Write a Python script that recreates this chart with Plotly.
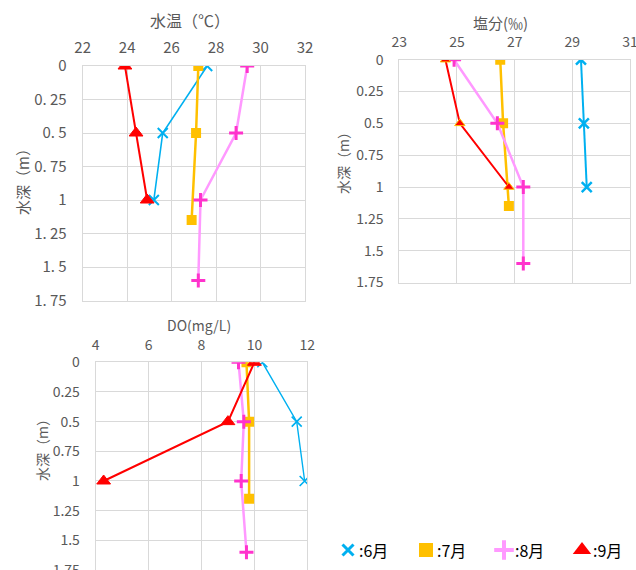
import plotly.graph_objects as go

W, H = 636, 570

# Depth (m) of each sampling point per month
depth_jun = [0, 0.5, 1.0]
depth_jul = [0, 0.5, 1.15]
depth_aug = [0, 0.5, 1.0, 1.6]
depth_sep = [0, 0.5, 1.0]

# Water temperature (°C)
temp_jun = [27.6, 25.6, 25.2]
temp_jul = [27.2, 27.1, 26.9]
temp_aug = [29.4, 28.9, 27.3, 27.2]
temp_sep = [23.9, 24.4, 24.9]

# Salinity (‰)
sal_jun = [29.3, 29.4, 29.5]
sal_jul = [26.5, 26.6, 26.8]
sal_aug = [24.9, 26.4, 27.3, 27.3]
sal_sep = [24.6, 25.1, 26.8]

# Dissolved oxygen (mg/L)
do_jun = [10.3, 11.6, 11.9]
do_jul = [9.7, 9.8, 9.8]
do_aug = [9.4, 9.6, 9.5, 9.7]
do_sep = [10.0, 9.0, 4.3]

months = [":6月", ":7月", ":8月", ":9月"]
depth_ticks = [0, 0.25, 0.5, 0.75, 1, 1.25, 1.5, 1.75]
depth_text_mono = ["0", "0. 25", "0. 5", "0. 75", "1", "1. 25", "1. 5", "1. 75"]
depth_text = ["0", "0.25", "0.5", "0.75", "1", "1.25", "1.5", "1.75"]
temp_ticks = [22, 24, 26, 28, 30, 32]
sal_ticks = [23, 25, 27, 29, 31]
do_ticks = [4, 6, 8, 10, 12]

C_JUN, C_JUL, C_AUG_L, C_AUG_M, C_SEP = "#00B0F0", "#FFC000", "#FF99FF", "#FF33CC", "#FF0000"
FONT = "Noto Sans CJK JP"
GRAY = "#595959"
GRID = "#D9D9D9"


def px_x(p):
    return p / W


def px_y(p):
    return 1 - p / H


fig = go.Figure()


def add_panel(k, xs, tri_size, tri_line, x_w=1.6, x_lw=2):
    xa, ya = ("x" if k == 1 else f"x{k}"), ("y" if k == 1 else f"y{k}")
    jun, jul, aug, sep = xs
    fig.add_trace(go.Scatter(x=jun, y=depth_jun, xaxis=xa, yaxis=ya, mode="lines+markers",
                             line=dict(color=C_JUN, width=x_w),
                             marker=dict(symbol="x-thin", size=10, line=dict(color=C_JUN, width=x_lw)),
                             showlegend=False))
    fig.add_trace(go.Scatter(x=jul, y=depth_jul, xaxis=xa, yaxis=ya, mode="lines+markers",
                             line=dict(color=C_JUL, width=2.5),
                             marker=dict(symbol="square", size=10, color=C_JUL),
                             showlegend=False))
    fig.add_trace(go.Scatter(x=aug, y=depth_aug, xaxis=xa, yaxis=ya, mode="lines+markers",
                             line=dict(color=C_AUG_L, width=2.5),
                             marker=dict(symbol="cross-thin", size=10, line=dict(color=C_AUG_M, width=3)),
                             showlegend=False))
    fig.add_trace(go.Scatter(x=sep, y=depth_sep, xaxis=xa, yaxis=ya, mode="lines+markers",
                             line=dict(color=C_SEP, width=2),
                             marker=dict(symbol="triangle-up", size=tri_size, color=C_SEP,
                                         line=dict(color=tri_line, width=1)),
                             showlegend=False))


add_panel(1, (temp_jun, temp_jul, temp_aug, temp_sep), 12, C_SEP, x_w=1.6, x_lw=2)
add_panel(2, (sal_jun, sal_jul, sal_aug, sal_sep), 9, "#FFC000", x_w=2, x_lw=2.5)
add_panel(3, (do_jun, do_jul, do_aug, do_sep), 12, C_SEP, x_w=1.4, x_lw=1.6)

# Key: one marker + label per month, laid out on a hidden strip axis
key_markers = [
    dict(symbol="x-thin", size=11, line=dict(color=C_JUN, width=3)),
    dict(symbol="square", size=14, color=C_JUL),
    dict(symbol="cross-thin", size=14, line=dict(color=C_AUG_L, width=4)),
    dict(symbol="triangle-up", size=16, color=C_SEP),
]
KEY_X0, KEY_STEP = 348, 78
for i, (name, mk) in enumerate(zip(months, key_markers)):
    xpos = KEY_X0 + KEY_STEP * i
    fig.add_trace(go.Scatter(x=[xpos], y=[0], xaxis="x4", yaxis="y4", mode="markers",
                             marker=mk, showlegend=False, hoverinfo="skip"))
    fig.add_annotation(text=name, x=xpos + 9, y=0, xref="x4", yref="y4", xanchor="left",
                       showarrow=False, font=dict(family=FONT, size=16, color="#000000"))


def xaxis_cfg(dom, rng, ticks, size, anchor):
    return dict(domain=[px_x(dom[0]), px_x(dom[1])], range=rng, tickvals=ticks, side="top",
                anchor=anchor, automargin=False, ticklabeloverflow="allow",
                showgrid=True, gridcolor=GRID, gridwidth=1, zeroline=False,
                showline=True, linecolor=GRID, linewidth=1, mirror=True,
                ticks="", ticklabelstandoff=6,
                tickfont=dict(family=FONT, size=size, color=GRAY), fixedrange=True)


def yaxis_cfg(dom, anchor, text, size):
    return dict(domain=[px_y(dom[1]), px_y(dom[0])], range=[1.75, 0], tickvals=depth_ticks,
                ticktext=text, anchor=anchor, automargin=False, ticklabeloverflow="allow",
                showgrid=True, gridcolor=GRID, gridwidth=1, zeroline=False,
                showline=True, linecolor=GRID, linewidth=1, mirror=True,
                ticks="", ticklabelstandoff=12,
                tickfont=dict(family=FONT, size=size, color=GRAY), fixedrange=True)


fig.update_layout(
    width=W, height=H,
    margin=dict(l=0, r=0, t=0, b=0, autoexpand=False),
    paper_bgcolor="white", plot_bgcolor="white",
    showlegend=False,
    xaxis=xaxis_cfg((82.7, 305), [22, 32], temp_ticks, 15, "y"),
    yaxis=yaxis_cfg((66, 300.5), "x", depth_text_mono, 15),
    xaxis2=xaxis_cfg((399.3, 630), [23, 31], sal_ticks, 14, "y2"),
    yaxis2=yaxis_cfg((59.7, 282.5), "x2", depth_text, 14),
    xaxis3=xaxis_cfg((95.7, 307.3), [4, 12], do_ticks, 14, "y3"),
    yaxis3=yaxis_cfg((362.3, 570), "x3", depth_text, 14),
    xaxis4=dict(domain=[px_x(330), 1], range=[330, 636], visible=False, fixedrange=True,
                anchor="y4"),
    yaxis4=dict(domain=[px_y(565), px_y(535)], range=[-1, 1], visible=False, fixedrange=True,
                anchor="x4"),
)

titles = [
    ("水温（℃）", 190, 20, 16),
    ("塩分(‰)", 500, 22, 15),
    ("DO(mg/L)", 199, 325, 14),
]
for text, x, y, s in titles:
    fig.add_annotation(text=text, x=px_x(x), y=px_y(y), xref="paper", yref="paper",
                       xanchor="center", yanchor="middle",
                       showarrow=False, font=dict(family=FONT, size=s, color=GRAY))

ytitles = [(22, 178, 15), (343, 160, 14), (42, 447, 14)]
for x, y, s in ytitles:
    fig.add_annotation(text="水深（m）", x=px_x(x), y=px_y(y), xref="paper", yref="paper",
                       xanchor="center", yanchor="middle",
                       showarrow=False, textangle=-90, font=dict(family=FONT, size=s, color=GRAY))

fig.write_html("out.html")
